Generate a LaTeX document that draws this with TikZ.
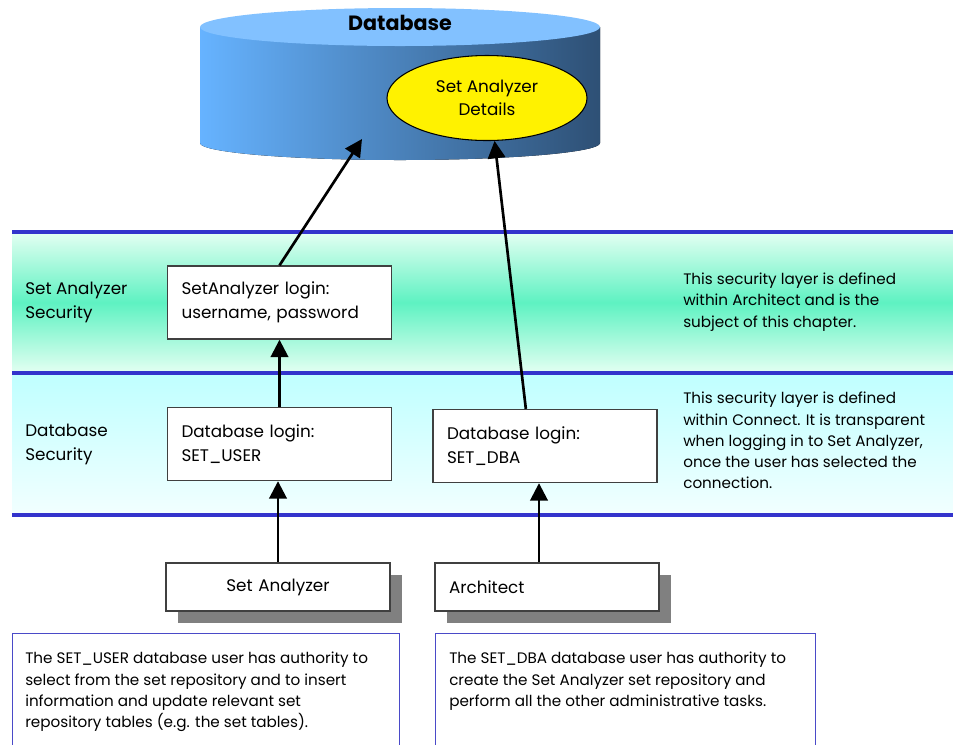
\documentclass[tikz,border=0pt]{standalone}
\usepackage{fontspec}
\setmainfont{Poppins}
\usetikzlibrary{arrows.meta, calc, shadows, shapes.geometric}
\definecolor{colLine}{HTML}{3333CC}
\definecolor{colMint}{HTML}{5EF2C2}
\definecolor{colMintPale}{HTML}{E4FFF2}
\definecolor{colCyan}{HTML}{BFFFFF}
\definecolor{colCyanPale}{HTML}{F2FFFF}
\definecolor{colDbTop}{HTML}{82C1FF}
\definecolor{colDbLight}{HTML}{66B3FF}
\definecolor{colDbDark}{HTML}{2E5075}
\definecolor{colNote}{HTML}{4A4AC8}
\newcommand{\bodyfont}{\fontsize{12.6}{17.6}\selectfont}
\newcommand{\notefont}{\fontsize{11.4}{15.9}\selectfont}
\tikzset{
    loginbox/.style={
        draw=black!75, fill=white, line width=1pt,
        minimum width=168pt, minimum height=54.75pt,
        text width=147pt, inner xsep=10.5pt,
        align=left, font=\bodyfont
    },
    appbox/.style={
        loginbox, minimum height=36pt,
        drop shadow={shadow xshift=9pt, shadow yshift=-9pt, fill=black!50, opacity=1}
    },
    notebox/.style={draw=colNote, fill=white, line width=0.6pt, anchor=north west, minimum height=90pt},
    plaintext/.style={align=left, font=\notefont, inner sep=0pt},
    layerline/.style={draw=colLine, line width=3pt},
    myarrow/.style={-{Triangle[length=13pt, width=13pt]}, line width=2pt},
}
\begin{document}
\begin{tikzpicture}[x=0.75pt, y=-0.75pt]
    \useasboundingbox (0,0) rectangle (953,744);

    % security layers
    \fill[top color=colMintPale, bottom color=colMintPale, middle color=colMint] (12,232) rectangle (953,373);
    \fill[top color=colCyan, bottom color=colCyanPale] (12,373) rectangle (953,515);
    \foreach \y in {232,373,515}
        \draw[layerline] (12,\y) -- (953,\y);

    % database cylinder
    \fill[left color=colDbLight, right color=colDbDark] (200,27) -- (200,143)
        arc[start angle=180, end angle=360, x radius=150pt, y radius=12.75pt] -- (600,27) -- cycle;
    \fill[colDbTop] (400,27) ellipse [x radius=150pt, y radius=14.25pt];
    \node[font=\fontsize{15.5}{18}\selectfont\bfseries] (dbTitle) at (400,23) {Database};
    \node[ellipse, draw=black, line width=0.8pt, fill=yellow, minimum width=150pt,
          minimum height=63.75pt, align=center, font=\bodyfont] (details) at (487,98)
          {Set Analyzer\\Details};
    \coordinate (dbHit) at (362,139);

    % logins
    \node[loginbox] (saLogin) at (279.5,302.5) {SetAnalyzer login:\\username, password};
    \node[loginbox] (userLogin) at (279.5,444) {Database login:\\SET\_USER};
    \node[loginbox] (dbaLogin) at (545,446) {Database login:\\SET\_DBA};

    % applications
    \node[appbox, align=center] (saApp) at (278,587) {Set Analyzer};
    \node[appbox] (archApp) at (547,587) {Architect};
    \coordinate (archFoot) at ([xshift=-6pt]archApp.north);

    \draw[myarrow] (saLogin.north) -- (dbHit);
    \draw[myarrow] ($(dbaLogin.north west)!0.415!(dbaLogin.north east)$) -- (details.-80);
    \draw[myarrow] (userLogin.north) -- (userLogin.north |- saLogin.south);
    \draw[myarrow] (saApp.north) -- (saApp.north |- userLogin.south);
    \draw[myarrow] (archFoot) -- (archFoot |- dbaLogin.south);

    % layer labels and notes
    \node[plaintext, font=\bodyfont, anchor=west] (saLayer) at (25,302.5) {Set Analyzer\\Security};
    \node[plaintext, font=\bodyfont, anchor=west] (dbLayer) at (25,444.5) {Database\\Security};
    \node[plaintext, anchor=west] (saNote) at (683,302)
          {This security layer is defined\\within Architect and is the\\subject of this chapter.};
    \node[plaintext, anchor=west] (dbNote) at (683,440.5)
          {This security layer is defined\\within Connect. It is transparent\\when logging in to Set Analyzer,\\once the user has selected the\\connection.};

    % user notes
    \node[notebox, minimum width=290.25pt] (userNote) at (12,633) {};
    \node[notebox, minimum width=285pt] (dbaNote) at (435,633) {};
    \node[plaintext, anchor=north west] (userNoteText) at (25,652)
          {The SET\_USER database user has authority to\\select from the set repository and to insert\\information and update relevant set\\repository tables (e.g. the set tables).};
    \node[plaintext, anchor=north west] (dbaNoteText) at (449,652)
          {The SET\_DBA database user has authority to\\create the Set Analyzer set repository and\\perform all the other administrative tasks.};
\end{tikzpicture}
\end{document}
